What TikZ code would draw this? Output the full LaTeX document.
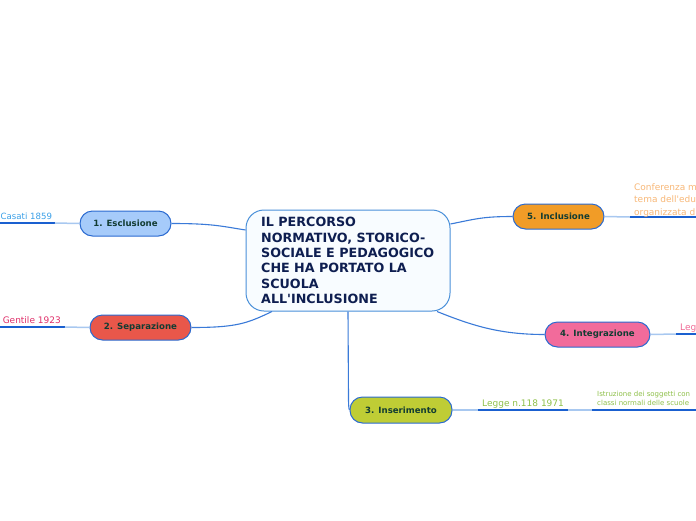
\documentclass[tikz,border=0pt]{standalone}
\usepackage{fontspec}
\setmainfont{DejaVu Sans}
\definecolor{cbord}{HTML}{4A90D9}
\definecolor{cfill}{HTML}{F8FCFF}
\definecolor{ctext}{HTML}{0E1E50}
\definecolor{btext}{HTML}{123C32}
\definecolor{bbord}{HTML}{2A6AD0}
\definecolor{conn}{HTML}{3A7AD8}
\definecolor{light}{HTML}{A8C8F0}
\definecolor{uline}{HTML}{1A60D0}
\definecolor{fEsc}{HTML}{A6CBFA}
\definecolor{fSep}{HTML}{E9574A}
\definecolor{fIns}{HTML}{BFCD35}
\definecolor{fInt}{HTML}{F26B9B}
\definecolor{fInc}{HTML}{F19C27}
\definecolor{tCas}{HTML}{3AA0E8}
\definecolor{tGen}{HTML}{E0306A}
\definecolor{tCon}{HTML}{F8B878}
\definecolor{tLeg}{HTML}{F06A96}
\definecolor{tGrn}{HTML}{8FC04A}
\begin{document}
\begin{tikzpicture}[x=1pt,y=-1pt,
  branch/.style={draw=bbord, line width=1pt, rounded corners=12.5pt, minimum height=25pt,
    inner sep=0pt, font=\fontsize{8.6}{10}\selectfont\bfseries, text=btext},
  mainconn/.style={draw=conn, line width=1.1pt},
  subconn/.style={draw=light, line width=1.5pt},
  under/.style={draw=uline, line width=1.5pt},
  subtext/.style={inner sep=0pt, font=\fontsize{9}{12.5}\selectfont, align=left}
]
\useasboundingbox (0,0) rectangle (696,520);
\clip (0,0) rectangle (696,520);
\fill[white] (0,0) rectangle (696,520);

% central
\node[draw=cbord, fill=cfill, line width=1pt, rounded corners=18pt,
  minimum width=204pt, minimum height=101pt, inner sep=0pt] (c) at (348,260.5) {};
\node[anchor=west, inner sep=0pt, align=left, text=ctext,
  font=\fontsize{12.7}{15.3}\selectfont\bfseries] (ct) at (261,260.5)
  {IL PERCORSO\\NORMATIVO, STORICO-\\SOCIALE E PEDAGOGICO\\CHE HA PORTATO LA\\SCUOLA\\ALL\textquotesingle INCLUSIONE};

% branches
\node[branch, fill=fEsc, minimum width=91pt] (e1) at (125.5,223.5) {1. Esclusione};
\node[branch, fill=fSep, minimum width=101pt] (e2) at (140.5,327.5) {2. Separazione};
\node[branch, fill=fIns, minimum width=102pt, minimum height=26pt] (e3) at (401,410) {3. Inserimento};
\node[branch, fill=fInt, minimum width=105pt] (e4) at (597.5,334.5) {4. Integrazione};
\node[branch, fill=fInc, minimum width=91pt] (e5) at (558.5,216.5) {5. Inclusione};

% main connectors
\draw[mainconn] (e1.east) .. controls +(40,0) and +(-25,-4) .. ([yshift=30.5pt]c.west);
\draw[mainconn] (e2.east) .. controls +(45,0) and +(-25,12) .. ([xshift=-76pt]c.south);
\draw[mainconn] (c.south) -- (348.5,398) .. controls (348.5,406) and (349,410) .. (e3.west);
\draw[mainconn] ([xshift=89pt]c.south) .. controls +(35,14) and +(-45,0) .. (e4.west);
\draw[mainconn] ([yshift=36.5pt]c.east) .. controls +(25,-5) and +(-30,0) .. (e5.west);

% subtopics: Casati
\coordinate (u1a) at (-5,223); \coordinate (u1b) at (55,223);
\draw[under] (u1a) -- (u1b);
\draw[subconn] (u1b) -- (e1.west);
\node[subtext, anchor=base west, text=tCas, font=\fontsize{8.6}{12}\selectfont] (s1) at (0.5,219) {Casati 1859};

% Gentile
\coordinate (u2a) at (-5,327); \coordinate (u2b) at (65,327);
\draw[under] (u2a) -- (u2b);
\draw[subconn] (u2b) -- (e2.west);
\node[subtext, anchor=base east, text=tGen] (s2) at (61,323) {Gentile 1923};

% Legge 118
\coordinate (u3a) at (478,410); \coordinate (u3b) at (568,410);
\draw[subconn] (e3.east) -- (u3a);
\draw[under] (u3a) -- (u3b);
\node[subtext, anchor=base west, text=tGrn] (s3) at (482,406) {Legge n.118 1971};

% Istruzione
\coordinate (u6a) at (592,410); \coordinate (u6b) at (700,410);
\draw[subconn] (u3b) -- (u6a);
\draw[under] (u6a) -- (u6b);
\node[inner sep=0pt, anchor=base west, align=left, text=tGrn,
  font=\fontsize{7}{9}\selectfont] (s6) at (597,405.5)
  {Istruzione dei soggetti con\\classi normali delle scuole};

% Integrazione sub
\coordinate (u4a) at (676,334); \coordinate (u4b) at (700,334);
\draw[subconn] (e4.east) -- (u4a);
\draw[under] (u4a) -- (u4b);
\node[subtext, anchor=base west, text=tLeg] (s4) at (680,330) {Legge};

% Inclusione sub
\coordinate (u5a) at (630,217); \coordinate (u5b) at (700,217);
\draw[subconn] (e5.east) -- (u5a);
\draw[under] (u5a) -- (u5b);
\node[subtext, anchor=base west, text=tCon] (s5) at (634,215)
  {organizzata d};
\node[subtext, anchor=base west, text=tCon] (s5b) at (634,202.5)
  {tema dell\textquotesingle edu};
\node[subtext, anchor=base west, text=tCon] (s5c) at (634,190)
  {Conferenza m};
\end{tikzpicture}
\end{document}
